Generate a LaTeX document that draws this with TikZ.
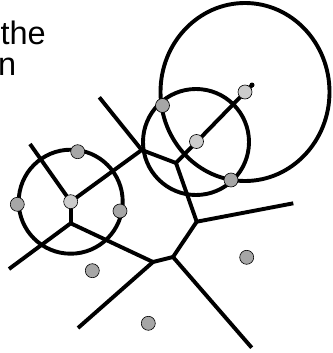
\documentclass[tikz,border=0pt]{standalone}
\usepackage{fontspec}
\setmainfont{Liberation Sans}
\begin{document}
\begin{tikzpicture}[x=1pt,y=-1pt,
  edge/.style={line width=3.9pt},
  ring/.style={line width=3.9pt},
  site/.style={circle,draw=black,line width=0.6pt,fill=black!35,minimum size=14pt,inner sep=0pt},
  ctr/.style={circle,draw=black,line width=0.6pt,fill=black!20,minimum size=14pt,inner sep=0pt},
  lbl/.style={font=\fontsize{32.5}{36}\selectfont,inner sep=0pt}]
\useasboundingbox (0,0) rectangle (332,353);
\begin{scope}
\clip (0,0) rectangle (332,353);
% text
\node[lbl,anchor=base east] (t1) at (46,44.5) {the};
\node[lbl,anchor=base east] (t2) at (16.5,75.5) {n};
% voronoi vertices
\coordinate (v1) at (70.7,201.7);
\coordinate (v2) at (141.7,150);
\coordinate (v3) at (70.7,223.3);
\coordinate (v4) at (176,163);
\coordinate (v5) at (196.7,221.7);
\coordinate (v6) at (173,257);
\coordinate (v7) at (153,262);
% free ends
\coordinate (e1) at (30,144);
\coordinate (e2) at (99.3,97.3);
\coordinate (e3) at (252,85);
\coordinate (e4) at (293.3,203.3);
\coordinate (e5) at (251.7,347.7);
\coordinate (e6) at (78,328);
\coordinate (e7) at (9,269);
% edges
\draw[edge] (v1) -- (e1);
\draw[edge] (v1) -- (v2);
\draw[edge] (v1) -- (v3);
\draw[edge] (v2) -- (e2);
\draw[edge] (v2) -- (v4);
\draw[edge] (v4) -- (e3);
\draw[edge] (v4) -- (v5);
\draw[edge] (v5) -- (e4);
\draw[edge] (v5) -- (v6);
\draw[edge] (v6) -- (v7);
\draw[edge] (v6) -- (e5);
\draw[edge] (v7) -- (v3);
\draw[edge] (v7) -- (e6);
\draw[edge] (v3) -- (e7);
\fill (e3) circle (2.5);
% circles
\draw[ring] (v1) circle (52);
\draw[ring] (196,142) circle (53);
\draw[ring] (245,92) ellipse [x radius=84.5, y radius=89];
% centres
\node[ctr] (c1) at (v1) {};
\node[ctr] (c2) at (196.5,141.5) {};
\node[ctr] (c3) at (245,92) {};
% sites
\node[site] (s1) at (77.7,151.7) {};
\node[site] (s2) at (17.3,204.3) {};
\node[site] (s3) at (120,211) {};
\node[site] (s4) at (162.5,105.5) {};
\node[site] (s5) at (231,180) {};
\node[site] (s6) at (92.3,270.7) {};
\node[site] (s7) at (148.3,323.3) {};
\node[site] (s8) at (246.7,257.3) {};
\end{scope}
\end{tikzpicture}
\end{document}
